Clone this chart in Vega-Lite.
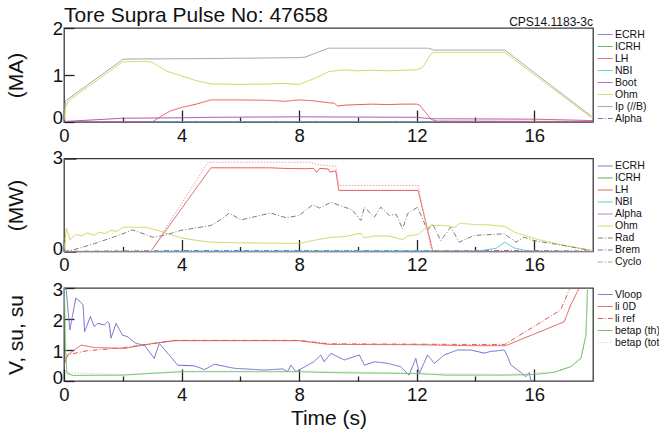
{
"$schema": "https://vega.github.io/schema/vega-lite/v6.json",
"background": "white",
"padding": {"left": 4, "top": 4, "right": 0, "bottom": 0},
"config": {
 "font": "Liberation Sans",
 "view": {"stroke": "#3a3a3a", "strokeWidth": 1.3},
 "axis": {"domain": false, "grid": false, "labelFont": "Liberation Sans", "labelFontSize": 18.5, "labelColor": "#111", "titleFont": "Liberation Sans", "titleFontSize": 21, "titleFontWeight": "normal", "titleColor": "#111", "tickColor": "#222", "tickWidth": 1.3, "labelOverlap": false, "labelFlush": false},
 "legend": {"orient": "none", "symbolType": "M-1,0H1.6", "symbolSize": 130, "symbolStrokeWidth": 1, "labelFont": "Liberation Sans", "labelFontSize": 10.5, "labelColor": "#111", "rowPadding": 0, "labelOffset": 5, "padding": 0},
 "title": {"font": "Liberation Sans", "fontWeight": "normal", "color": "#111"}
},
"datasets": {
 "top": [
  {"s":"ECRH","t":0,"v":0},{"s":"ECRH","t":18,"v":0},
  {"s":"ICRH","t":0,"v":0},{"s":"ICRH","t":18,"v":0},
  {"s":"NBI","t":0,"v":0},{"s":"NBI","t":18,"v":0},
  {"s":"Alpha","t":0,"v":0},{"s":"Alpha","t":18,"v":0},
  {"s":"Ip (//B)","t":0,"v":0.05},{"s":"Ip (//B)","t":0.05,"v":0.45},{"s":"Ip (//B)","t":2.0,"v":1.33},{"s":"Ip (//B)","t":2.2,"v":1.34},{"s":"Ip (//B)","t":5,"v":1.35},{"s":"Ip (//B)","t":8.0,"v":1.37},{"s":"Ip (//B)","t":8.2,"v":1.38},{"s":"Ip (//B)","t":9.0,"v":1.57},{"s":"Ip (//B)","t":12.4,"v":1.57},{"s":"Ip (//B)","t":12.6,"v":1.53},{"s":"Ip (//B)","t":15.0,"v":1.53},{"s":"Ip (//B)","t":17.95,"v":0.12},
  {"s":"Ohm","t":0,"v":0.03},{"s":"Ohm","t":0.05,"v":0.3},{"s":"Ohm","t":0.15,"v":0.45},{"s":"Ohm","t":2.0,"v":1.28},{"s":"Ohm","t":2.8,"v":1.29},{"s":"Ohm","t":3.0,"v":1.27},{"s":"Ohm","t":3.5,"v":1.08},{"s":"Ohm","t":4.0,"v":0.98},{"s":"Ohm","t":4.5,"v":0.88},{"s":"Ohm","t":5.0,"v":0.81},{"s":"Ohm","t":6,"v":0.8},{"s":"Ohm","t":7,"v":0.81},{"s":"Ohm","t":7.5,"v":0.82},{"s":"Ohm","t":8.0,"v":0.8},{"s":"Ohm","t":8.5,"v":0.92},{"s":"Ohm","t":9.0,"v":1.07},{"s":"Ohm","t":9.5,"v":1.11},{"s":"Ohm","t":10,"v":1.09},{"s":"Ohm","t":10.5,"v":1.1},{"s":"Ohm","t":11,"v":1.09},{"s":"Ohm","t":11.5,"v":1.1},{"s":"Ohm","t":12.0,"v":1.11},{"s":"Ohm","t":12.2,"v":1.16},{"s":"Ohm","t":12.5,"v":1.46},{"s":"Ohm","t":12.6,"v":1.48},{"s":"Ohm","t":15.0,"v":1.48},{"s":"Ohm","t":17.95,"v":0.09},
  {"s":"LH","t":0,"v":0},{"s":"LH","t":3.0,"v":0},{"s":"LH","t":3.3,"v":0.12},{"s":"LH","t":3.6,"v":0.23},{"s":"LH","t":4.0,"v":0.31},{"s":"LH","t":4.5,"v":0.38},{"s":"LH","t":5.0,"v":0.47},{"s":"LH","t":6,"v":0.47},{"s":"LH","t":7,"v":0.46},{"s":"LH","t":7.5,"v":0.44},{"s":"LH","t":8,"v":0.47},{"s":"LH","t":8.5,"v":0.45},{"s":"LH","t":9.0,"v":0.41},{"s":"LH","t":9.2,"v":0.4},{"s":"LH","t":9.3,"v":0.34},{"s":"LH","t":9.6,"v":0.36},{"s":"LH","t":10,"v":0.37},{"s":"LH","t":10.5,"v":0.38},{"s":"LH","t":11,"v":0.37},{"s":"LH","t":11.5,"v":0.38},{"s":"LH","t":12.0,"v":0.38},{"s":"LH","t":12.1,"v":0.36},{"s":"LH","t":12.5,"v":0.05},{"s":"LH","t":12.7,"v":0.02},{"s":"LH","t":18,"v":0.01},
  {"s":"Boot","t":0,"v":0.01},{"s":"Boot","t":2.0,"v":0.08},{"s":"Boot","t":4.0,"v":0.09},{"s":"Boot","t":5.0,"v":0.1},{"s":"Boot","t":8.0,"v":0.11},{"s":"Boot","t":12.0,"v":0.1},{"s":"Boot","t":12.5,"v":0.07},{"s":"Boot","t":16,"v":0.06},{"s":"Boot","t":18,"v":0.03}
 ],
 "mid": [
  {"s":"ECRH","t":0,"v":0},{"s":"ECRH","t":18,"v":0},
  {"s":"ICRH","t":0,"v":0},{"s":"ICRH","t":18,"v":0},
  {"s":"Alpha","t":0,"v":0},{"s":"Alpha","t":18,"v":0},
  {"s":"Cyclo","t":0,"v":0.01},{"s":"Cyclo","t":18,"v":0.01},
  {"s":"Brem","t":0,"v":0},{"s":"Brem","t":4,"v":0.03},{"s":"Brem","t":16,"v":0.03},{"s":"Brem","t":18,"v":0.01},
  {"s":"NBI","t":0,"v":0},{"s":"NBI","t":14.1,"v":0.02},{"s":"NBI","t":14.7,"v":0.1},{"s":"NBI","t":15.0,"v":0.3},{"s":"NBI","t":15.3,"v":0.12},{"s":"NBI","t":15.7,"v":0.03},{"s":"NBI","t":16.0,"v":0.01},{"s":"NBI","t":18,"v":0},
  {"s":"LH","t":0,"v":0},{"s":"LH","t":2.95,"v":0},{"s":"LH","t":5.0,"v":2.7},{"s":"LH","t":6,"v":2.7},{"s":"LH","t":7,"v":2.7},{"s":"LH","t":7.5,"v":2.68},{"s":"LH","t":8.2,"v":2.67},{"s":"LH","t":8.5,"v":2.68},{"s":"LH","t":8.6,"v":2.55},{"s":"LH","t":8.7,"v":2.68},{"s":"LH","t":9.0,"v":2.66},{"s":"LH","t":9.05,"v":2.56},{"s":"LH","t":9.25,"v":2.6},{"s":"LH","t":9.35,"v":1.97},{"s":"LH","t":12.05,"v":1.97},{"s":"LH","t":12.55,"v":0},{"s":"LH","t":18,"v":0},
  {"s":"Ohm","t":0,"v":0.02},{"s":"Ohm","t":0.08,"v":0.75},{"s":"Ohm","t":0.2,"v":0.38},{"s":"Ohm","t":0.4,"v":0.55},{"s":"Ohm","t":0.6,"v":0.5},{"s":"Ohm","t":0.8,"v":0.6},{"s":"Ohm","t":1.0,"v":0.52},{"s":"Ohm","t":1.2,"v":0.62},{"s":"Ohm","t":1.4,"v":0.58},{"s":"Ohm","t":1.6,"v":0.68},{"s":"Ohm","t":1.8,"v":0.65},{"s":"Ohm","t":2.0,"v":0.78},{"s":"Ohm","t":2.8,"v":0.78},{"s":"Ohm","t":3.2,"v":0.68},{"s":"Ohm","t":3.6,"v":0.55},{"s":"Ohm","t":4.0,"v":0.44},{"s":"Ohm","t":4.5,"v":0.36},{"s":"Ohm","t":5.0,"v":0.3},{"s":"Ohm","t":6,"v":0.28},{"s":"Ohm","t":7,"v":0.27},{"s":"Ohm","t":8.0,"v":0.26},{"s":"Ohm","t":8.5,"v":0.36},{"s":"Ohm","t":9.1,"v":0.46},{"s":"Ohm","t":9.55,"v":0.48},{"s":"Ohm","t":10.1,"v":0.59},{"s":"Ohm","t":10.2,"v":0.44},{"s":"Ohm","t":10.56,"v":0.5},{"s":"Ohm","t":11.07,"v":0.5},{"s":"Ohm","t":11.52,"v":0.38},{"s":"Ohm","t":11.7,"v":0.5},{"s":"Ohm","t":12.05,"v":0.55},{"s":"Ohm","t":12.27,"v":0.73},{"s":"Ohm","t":12.5,"v":0.84},{"s":"Ohm","t":12.96,"v":0.84},{"s":"Ohm","t":13.3,"v":0.77},{"s":"Ohm","t":13.47,"v":0.91},{"s":"Ohm","t":13.98,"v":0.87},{"s":"Ohm","t":14.43,"v":0.86},{"s":"Ohm","t":15.0,"v":0.81},{"s":"Ohm","t":15.34,"v":0.62},{"s":"Ohm","t":16.03,"v":0.41},{"s":"Ohm","t":17.05,"v":0.19},{"s":"Ohm","t":17.95,"v":0.04},
  {"s":"Rad","t":0,"v":0},{"s":"Rad","t":0.3,"v":0.05},{"s":"Rad","t":1.03,"v":0.25},{"s":"Rad","t":2.0,"v":0.57},{"s":"Rad","t":2.33,"v":0.7},{"s":"Rad","t":3.02,"v":0.46},{"s":"Rad","t":3.41,"v":0.52},{"s":"Rad","t":3.98,"v":0.68},{"s":"Rad","t":5.0,"v":0.84},{"s":"Rad","t":5.4,"v":1.07},{"s":"Rad","t":5.62,"v":1.24},{"s":"Rad","t":6.02,"v":1.02},{"s":"Rad","t":7.04,"v":1.24},{"s":"Rad","t":7.55,"v":1.09},{"s":"Rad","t":8.0,"v":1.16},{"s":"Rad","t":8.46,"v":1.51},{"s":"Rad","t":8.7,"v":1.4},{"s":"Rad","t":9.08,"v":1.59},{"s":"Rad","t":9.54,"v":1.43},{"s":"Rad","t":9.8,"v":1.35},{"s":"Rad","t":10.1,"v":1.0},{"s":"Rad","t":10.22,"v":1.43},{"s":"Rad","t":10.56,"v":1.11},{"s":"Rad","t":10.78,"v":1.43},{"s":"Rad","t":11.07,"v":1.16},{"s":"Rad","t":11.3,"v":1.2},{"s":"Rad","t":11.52,"v":0.73},{"s":"Rad","t":11.69,"v":1.22},{"s":"Rad","t":12.03,"v":1.43},{"s":"Rad","t":12.37,"v":0.68},{"s":"Rad","t":12.54,"v":0.89},{"s":"Rad","t":12.82,"v":0.35},{"s":"Rad","t":13.16,"v":0.78},{"s":"Rad","t":13.45,"v":0.3},{"s":"Rad","t":13.96,"v":0.52},{"s":"Rad","t":14.98,"v":0.57},{"s":"Rad","t":15.38,"v":0.3},{"s":"Rad","t":15.66,"v":0.46},{"s":"Rad","t":16.0,"v":0.35},{"s":"Rad","t":17.02,"v":0.19},{"s":"Rad","t":17.93,"v":0.03}
 ],
 "midextra": [
  {"t":2.95,"v":0},{"t":4.9,"v":2.88},{"t":8.4,"v":2.88},{"t":8.6,"v":2.8},{"t":9.25,"v":2.75},{"t":9.35,"v":2.13},{"t":12.05,"v":2.13},{"t":12.5,"v":0.02}
 ],
 "bot": [
  {"s":"Vloop","t":0.02,"v":3.5},{"s":"Vloop","t":0.2,"v":1.65},{"s":"Vloop","t":0.4,"v":2.67},{"s":"Vloop","t":0.55,"v":2.56},{"s":"Vloop","t":0.65,"v":2.45},{"s":"Vloop","t":0.7,"v":1.59},{"s":"Vloop","t":0.9,"v":2.08},{"s":"Vloop","t":1.03,"v":1.75},{"s":"Vloop","t":1.14,"v":1.86},{"s":"Vloop","t":1.37,"v":1.81},{"s":"Vloop","t":1.48,"v":1.91},{"s":"Vloop","t":1.54,"v":1.86},{"s":"Vloop","t":1.6,"v":1.38},{"s":"Vloop","t":1.77,"v":1.86},{"s":"Vloop","t":1.99,"v":1.48},{"s":"Vloop","t":2.16,"v":1.43},{"s":"Vloop","t":2.45,"v":1.21},{"s":"Vloop","t":2.73,"v":1.16},{"s":"Vloop","t":3.07,"v":0.73},{"s":"Vloop","t":3.24,"v":1.21},{"s":"Vloop","t":3.58,"v":0.84},{"s":"Vloop","t":3.87,"v":0.51},{"s":"Vloop","t":4.43,"v":0.49},{"s":"Vloop","t":4.78,"v":0.37},{"s":"Vloop","t":5.12,"v":0.54},{"s":"Vloop","t":5.79,"v":0.41},{"s":"Vloop","t":6.81,"v":0.355},{"s":"Vloop","t":7.44,"v":0.39},{"s":"Vloop","t":7.61,"v":0.3},{"s":"Vloop","t":7.72,"v":0.51},{"s":"Vloop","t":7.89,"v":0.3},{"s":"Vloop","t":8.5,"v":0.62},{"s":"Vloop","t":8.74,"v":0.84},{"s":"Vloop","t":8.85,"v":0.62},{"s":"Vloop","t":9.08,"v":0.89},{"s":"Vloop","t":9.54,"v":0.68},{"s":"Vloop","t":10.05,"v":0.84},{"s":"Vloop","t":10.22,"v":0.51},{"s":"Vloop","t":10.56,"v":0.62},{"s":"Vloop","t":11.01,"v":0.57},{"s":"Vloop","t":11.46,"v":0.46},{"s":"Vloop","t":11.74,"v":0.19},{"s":"Vloop","t":11.97,"v":0.73},{"s":"Vloop","t":12.09,"v":0.24},{"s":"Vloop","t":12.37,"v":0.84},{"s":"Vloop","t":12.6,"v":0.57},{"s":"Vloop","t":12.94,"v":0.84},{"s":"Vloop","t":13.39,"v":1.0},{"s":"Vloop","t":13.84,"v":1.0},{"s":"Vloop","t":14.3,"v":0.9},{"s":"Vloop","t":14.5,"v":0.95},{"s":"Vloop","t":14.98,"v":1.0},{"s":"Vloop","t":15.09,"v":0.8},{"s":"Vloop","t":15.2,"v":0.52},{"s":"Vloop","t":15.54,"v":0.28},{"s":"Vloop","t":15.71,"v":0.14},{"s":"Vloop","t":15.83,"v":0.27},{"s":"Vloop","t":15.88,"v":0.03},{"s":"Vloop","t":16.0,"v":0.0},
  {"s":"li 0D","t":0.02,"v":0.55},{"s":"li 0D","t":0.12,"v":0.84},{"s":"li 0D","t":0.58,"v":1.16},{"s":"li 0D","t":1.03,"v":1.08},{"s":"li 0D","t":2.05,"v":1.05},{"s":"li 0D","t":2.96,"v":1.2},{"s":"li 0D","t":3.75,"v":1.3},{"s":"li 0D","t":8.0,"v":1.3},{"s":"li 0D","t":9.0,"v":1.18},{"s":"li 0D","t":12,"v":1.17},{"s":"li 0D","t":13.84,"v":1.14},{"s":"li 0D","t":15.03,"v":1.14},{"s":"li 0D","t":17.02,"v":1.91},{"s":"li 0D","t":17.24,"v":2.45},{"s":"li 0D","t":17.53,"v":3.0},{"s":"li 0D","t":17.7,"v":3.4},
  {"s":"li ref","t":0.02,"v":0.72},{"s":"li ref","t":0.2,"v":0.86},{"s":"li ref","t":0.75,"v":0.97},{"s":"li ref","t":2.05,"v":1.08},{"s":"li ref","t":2.96,"v":1.2},{"s":"li ref","t":3.75,"v":1.31},{"s":"li ref","t":8.0,"v":1.31},{"s":"li ref","t":9.0,"v":1.2},{"s":"li ref","t":13.84,"v":1.18},{"s":"li ref","t":15.0,"v":1.18},{"s":"li ref","t":16.9,"v":2.29},{"s":"li ref","t":17.19,"v":2.94},{"s":"li ref","t":17.3,"v":3.3},
  {"s":"betap (th)","t":0.0,"v":3.5},{"s":"betap (th)","t":0.05,"v":1.0},{"s":"betap (th)","t":0.1,"v":0.25},{"s":"betap (th)","t":0.3,"v":0.18},{"s":"betap (th)","t":2,"v":0.19},{"s":"betap (th)","t":4,"v":0.3},{"s":"betap (th)","t":8,"v":0.3},{"s":"betap (th)","t":9.1,"v":0.27},{"s":"betap (th)","t":12,"v":0.24},{"s":"betap (th)","t":13,"v":0.19},{"s":"betap (th)","t":15,"v":0.19},{"s":"betap (th)","t":16.0,"v":0.21},{"s":"betap (th)","t":16.68,"v":0.28},{"s":"betap (th)","t":17.24,"v":0.46},{"s":"betap (th)","t":17.59,"v":0.73},{"s":"betap (th)","t":17.76,"v":1.48},{"s":"betap (th)","t":17.81,"v":2.88},{"s":"betap (th)","t":17.83,"v":3.3},
  {"s":"betap (tot)","t":0.0,"v":3.5},{"s":"betap (tot)","t":0.1,"v":0.27},{"s":"betap (tot)","t":2,"v":0.21},{"s":"betap (tot)","t":4,"v":0.32},{"s":"betap (tot)","t":8,"v":0.32},{"s":"betap (tot)","t":12,"v":0.26},{"s":"betap (tot)","t":15,"v":0.21},{"s":"betap (tot)","t":16.68,"v":0.3},{"s":"betap (tot)","t":17.24,"v":0.48},{"s":"betap (tot)","t":17.59,"v":0.76},{"s":"betap (tot)","t":17.76,"v":1.5},{"s":"betap (tot)","t":17.81,"v":2.9},{"s":"betap (tot)","t":17.83,"v":3.3}
 ]
},
"vconcat": [
 {
  "width": 529, "height": 94,
  "title": {"text": "Tore Supra Pulse No: 47658", "anchor": "start", "frame": "group", "fontSize": 21, "offset": -10},
  "layer": [
   {
    "data": {"name": "top"},
    "mark": {"type": "line", "strokeWidth": 1, "clip": true},
    "encoding": {
     "x": {"field": "t", "type": "quantitative", "scale": {"domain": [0, 18], "nice": false, "zero": false},
       "axis": {"title": null, "values": [0,2,4,6,8,10,12,14,16], "labelExpr": "datum.value % 4 === 0 ? '' + datum.value : ''", "tickSize": {"condition": {"test": "datum.value % 4 === 0", "value": -12}, "value": -5}, "labelPadding": 16}},
     "y": {"field": "v", "type": "quantitative", "scale": {"domain": [0, 2], "nice": false},
       "axis": {"title": "(MA)", "values": [0,0.5,1,1.5,2], "labelExpr": "datum.value % 1 === 0 ? '' + datum.value : ''", "tickSize": {"condition": {"test": "datum.value % 1 === 0", "value": -10}, "value": -7}, "labelPadding": 11.5, "labelOffset": {"condition": {"test": "datum.value === 0", "value": -5}, "value": 0}, "titlePadding": 26}},
     "color": {"field": "s", "type": "nominal",
       "scale": {"domain": ["ECRH","ICRH","LH","NBI","Boot","Ohm","Ip (//B)","Alpha"], "range": ["#7474cc","#4fa858","#e05858","#50c8c8","#b050b0","#d2d25a","#9c9c9c","#7070c0"]},
       "legend": {"title": null, "legendX": 533, "legendY": 0}},
     "strokeDash": {"field": "s", "type": "nominal",
       "scale": {"domain": ["ECRH","ICRH","LH","NBI","Boot","Ohm","Ip (//B)","Alpha"], "range": [[1,0],[1,0],[1,0],[1,0],[1,0],[1,0],[1,0],[5,2,1,2]]},
       "legend": {"title": null, "legendX": 533, "legendY": 0}}
    }
   },
   {
    "data": {"values": [{"label": "CPS14.1183-3c", "t": 18, "v": 2}]},
    "mark": {"type": "text", "align": "right", "baseline": "alphabetic", "dy": -2, "fontSize": 12, "font": "Liberation Sans", "color": "#111"},
    "encoding": {
     "x": {"field": "t", "type": "quantitative"},
     "y": {"field": "v", "type": "quantitative"},
     "text": {"field": "label"}
    }
   }
  ]
 },
 {
  "width": 529, "height": 93,
  "layer": [
   {
    "data": {"name": "mid"},
    "mark": {"type": "line", "strokeWidth": 1, "clip": true},
    "encoding": {
     "x": {"field": "t", "type": "quantitative", "scale": {"domain": [0, 18], "nice": false, "zero": false},
       "axis": {"title": null, "values": [0,2,4,6,8,10,12,14,16], "labelExpr": "datum.value % 4 === 0 ? '' + datum.value : ''", "tickSize": {"condition": {"test": "datum.value % 4 === 0", "value": -12}, "value": -5}, "labelPadding": 16}},
     "y": {"field": "v", "type": "quantitative", "scale": {"domain": [0, 3], "nice": false},
       "axis": {"title": "(MW)", "values": [3,0,1.2,2.4], "labelExpr": "datum.value === 0 ? '0' : datum.value === 3 ? '3' : '2'", "tickSize": -12, "labelPadding": 13.5, "labelBaseline": {"condition": {"test": "datum.value === 0", "value": "alphabetic"}, "value": "middle"}, "labelOffset": {"condition": {"test": "datum.value === 3", "value": -1}, "value": 2.5}, "titlePadding": 26}},
     "color": {"field": "s", "type": "nominal",
       "scale": {"domain": ["ECRH","ICRH","LH","NBI","Alpha","Ohm","Rad","Brem","Cyclo"], "range": ["#7474cc","#4fa858","#e05858","#50c8c8","#c070c8","#d2d25a","#7c7c7c","#6c6cc4","#8cb88c"]},
       "legend": {"title": null, "legendX": 533, "legendY": 1}},
     "strokeDash": {"field": "s", "type": "nominal",
       "scale": {"domain": ["ECRH","ICRH","LH","NBI","Alpha","Ohm","Rad","Brem","Cyclo"], "range": [[1,0],[1,0],[1,0],[1,0],[1,0],[1,0],[5,2,1,2],[5,2,1,2],[5,2,1,2]]},
       "legend": {"title": null, "legendX": 533, "legendY": 1}}
    }
   },
   {
    "data": {"name": "midextra"},
    "mark": {"type": "line", "strokeWidth": 1, "color": "#f0a0a8", "strokeDash": [1.5, 1.5], "clip": true},
    "encoding": {
     "x": {"field": "t", "type": "quantitative"},
     "y": {"field": "v", "type": "quantitative"}
    }
   }
  ]
 },
 {
  "width": 529, "height": 93,
  "data": {"name": "bot"},
  "mark": {"type": "line", "strokeWidth": 1, "clip": true},
  "encoding": {
   "x": {"field": "t", "type": "quantitative", "scale": {"domain": [0, 18], "nice": false, "zero": false},
     "axis": {"title": "Time (s)", "titlePadding": -3, "values": [0,2,4,6,8,10,12,14,16], "labelExpr": "datum.value % 4 === 0 ? '' + datum.value : ''", "tickSize": {"condition": {"test": "datum.value % 4 === 0", "value": -12}, "value": -5}, "labelPadding": 16}},
   "y": {"field": "v", "type": "quantitative", "scale": {"domain": [0, 3], "nice": false},
     "axis": {"title": "V, su, su", "values": [0,1,2,3], "labelExpr": "'' + datum.value", "tickSize": -10, "labelPadding": 11.5, "labelOffset": {"condition": {"test": "datum.value === 0", "value": -3.5}, "value": 1}, "titlePadding": 26}},
   "color": {"field": "s", "type": "nominal",
     "scale": {"domain": ["Vloop","li 0D","li ref","betap (th)","betap (tot)"], "range": ["#6a6acc","#e05858","#e05858","#5cbc50","#b0ccb0"]},
     "legend": {"title": null, "legendX": 533, "legendY": 0}},
   "strokeDash": {"field": "s", "type": "nominal",
     "scale": {"domain": ["Vloop","li 0D","li ref","betap (th)","betap (tot)"], "range": [[1,0],[1,0],[5,2,1,2],[1,0],[1,2]]},
     "legend": {"title": null, "legendX": 533, "legendY": 0}}
  }
 }
],
"bounds": "flush",
"spacing": 36.5,
"resolve": {"scale": {"x": "independent", "y": "independent", "color": "independent", "strokeDash": "independent"}}
}
